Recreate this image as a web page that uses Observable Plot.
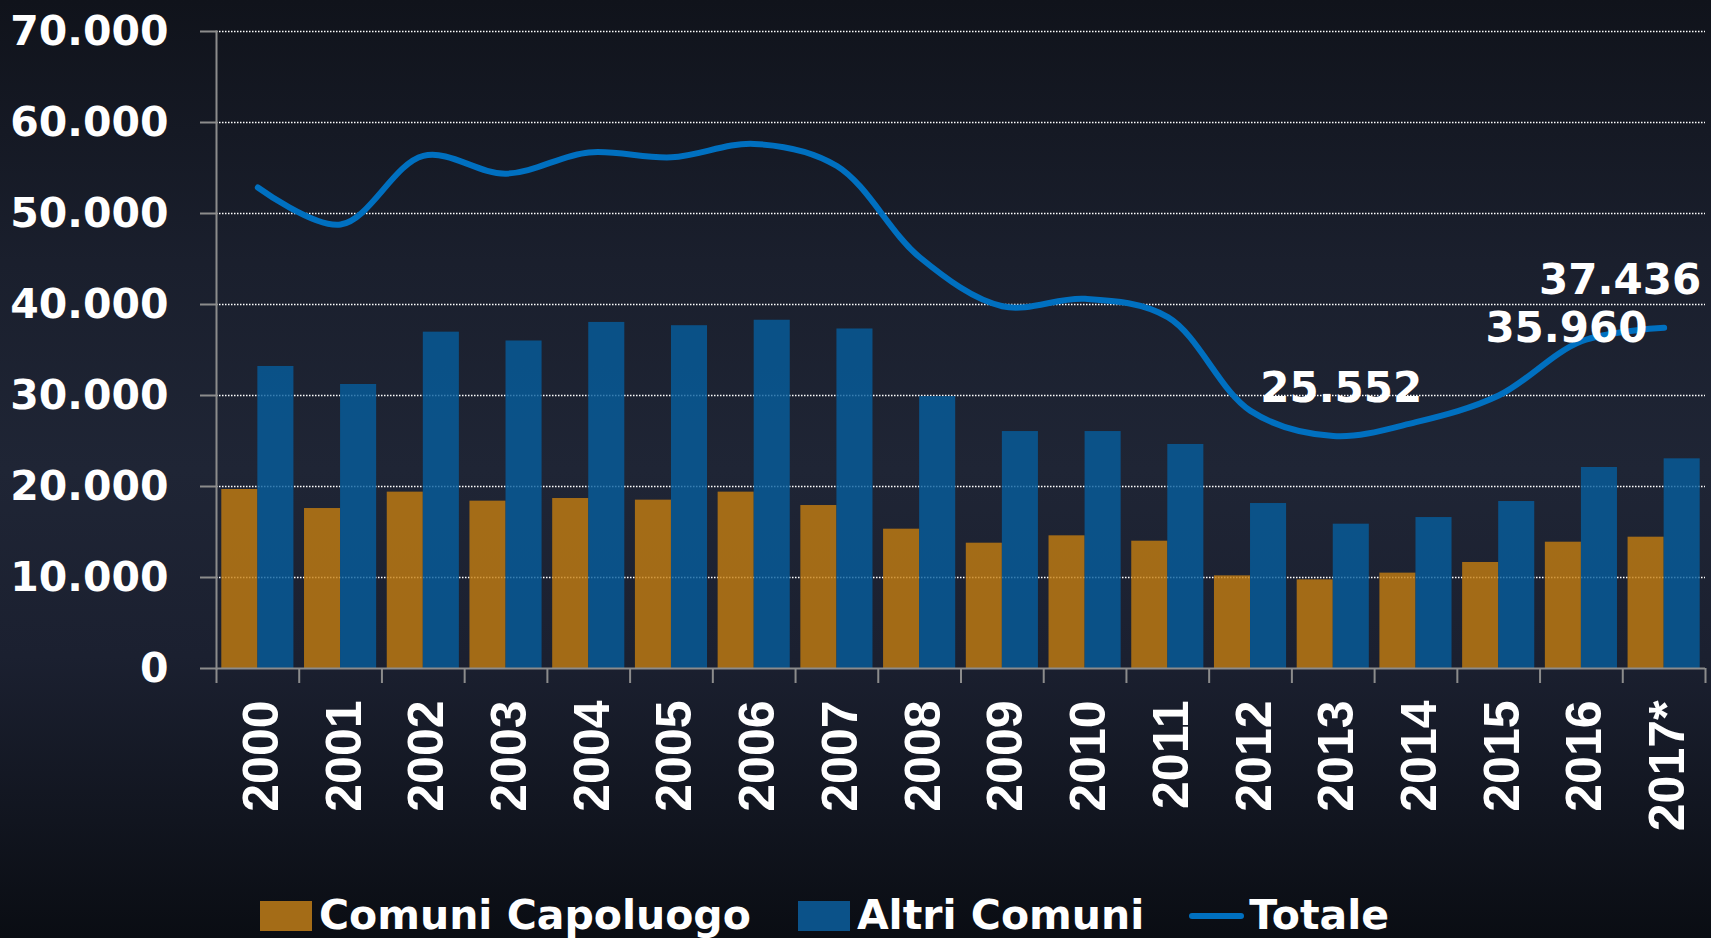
<!DOCTYPE html>
<html><head><meta charset="utf-8">
<script src="https://cdn.jsdelivr.net/npm/d3@7"></script>
<script src="https://cdn.jsdelivr.net/npm/@observablehq/plot@0.6"></script>
<style>
html,body{margin:0;padding:0;}
body{width:1711px;height:938px;overflow:hidden;position:relative;
  background:linear-gradient(to bottom,#10131b 0%,#1a1f2d 28%,#1f2535 50%,#1b2030 70%,#0a0d13 100%);}
#chart{position:absolute;left:0;top:0;}
#legend{position:absolute;left:260px;top:895px;height:41px;display:flex;align-items:center;
  font:bold 41px/1 "DejaVu Sans",sans-serif;color:#fff;white-space:nowrap;}
.sw{width:52px;height:30px;margin-right:7px;}
.ln{width:55px;height:6px;border-radius:3px;margin-right:5px;}
</style></head><body>
<div id="chart"></div>
<div id="legend"></div>
<script>
const years = ["2000","2001","2002","2003","2004","2005","2006","2007","2008","2009","2010","2011","2012","2013","2014","2015","2016","2017*"];
const capoluogo = [19670,17580,19380,18390,18680,18500,19380,17910,15310,13770,14580,13990,10180,9740,10480,11650,13880,14430];
const altri = [33190,31210,36960,35990,38030,37670,38270,37310,29880,26040,26040,24620,18130,15860,16590,18350,22090,23040];
const totale = [52860,48790,56330,54380,56710,56170,57650,55220,45190,39810,40620,38610,28310,25552,27070,30000,35960,37436];
const yTicks = [0,10000,20000,30000,40000,50000,60000,70000];
const seriesNames = ["Comuni Capoluogo","Altri Comuni","Totale"];
const seriesColors = ["#a46c17","#0b5289","#0070c0"];
const barFills = ["#c57e10","#065e9e"];
const labeledYears = ["2013","2016","2017*"];

const fmt = v => d3.format(",")(v).replace(/,/g, ".");
const data = years.map((y, i) => ({year: y, cap: capoluogo[i], alt: altri[i], tot: totale[i]}));
const W = 1711, mL = 216, mR = 6;
const bw = (W - mL - mR) / years.length;
const grey = "#8c8c8c";
const lab = y => data.filter(d => d.year === y);
const labelStyle = {x: "year", y: "tot", text: d => fmt(d.tot), fill: "white", fontSize: 42, fontWeight: "bold", fontFamily: "DejaVu Sans"};

const plot = Plot.plot({
  width: W, height: 870,
  marginLeft: mL, marginRight: mR, marginTop: 31, marginBottom: 202,
  style: {background: "transparent", color: "white", fontFamily: "DejaVu Sans", overflow: "visible"},
  x: {type: "band", domain: years, padding: 0, round: false, label: null},
  y: {domain: [0, 70000], label: null},
  marks: [
    Plot.ruleY(yTicks.slice(1), {stroke: "white", strokeWidth: 1.5, strokeDasharray: "1.5,1.5"}),
    Plot.barY(data, {x: "year", y: "cap", fill: barFills[0], fillOpacity: 0.8, insetLeft: 5.3, insetRight: bw / 2}),
    Plot.barY(data, {x: "year", y: "alt", fill: barFills[1], fillOpacity: 0.8, insetLeft: bw / 2, insetRight: 5.3}),
    Plot.line(data, {x: "year", y: "tot", curve: "catmull-rom", stroke: seriesColors[2], strokeWidth: 6, strokeLinecap: "round"}),
    Plot.ruleY([0], {stroke: grey, strokeWidth: 2}),
    Plot.frame({anchor: "left", stroke: grey, strokeWidth: 2}),
    Plot.axisY({ticks: yTicks, tickSize: 16, tickPadding: 32, tickFormat: fmt, label: null, stroke: grey, strokeWidth: 2,
      fill: "white", fontSize: 41, fontWeight: "bold", fontFamily: "DejaVu Sans"}),
    Plot.axisX({tickSize: 15, tickFormat: () => "", label: null, dx: -bw / 2, stroke: grey, strokeWidth: 2}),
    Plot.axisX([years[years.length - 1]], {tickSize: 15, tickFormat: () => "", label: null, dx: bw / 2, stroke: grey, strokeWidth: 2}),
    Plot.axisX({tickSize: 0, tickPadding: 32, tickRotate: -90, label: null, dx: 4, fill: "white", fontSize: 50, fontWeight: "bold", fontFamily: "Liberation Sans"}),
    Plot.text(lab(labeledYears[0]), {...labelStyle, dx: 8, dy: -47}),
    Plot.text(lab(labeledYears[1]), {...labelStyle, dx: -15, dy: -13}),
    Plot.text(lab(labeledYears[2]), {...labelStyle, dx: -44, dy: -47})
  ]
});
document.getElementById("chart").appendChild(plot);

const legend = document.getElementById("legend");
seriesNames.forEach((name, i) => {
  const sw = document.createElement("div");
  sw.className = i < 2 ? "sw" : "ln";
  sw.style.background = seriesColors[i];
  const t = document.createElement("span");
  t.textContent = name;
  if (i < 2) t.style.marginRight = i === 0 ? "47px" : "45px";
  legend.appendChild(sw);
  legend.appendChild(t);
});
</script>
</body></html>
